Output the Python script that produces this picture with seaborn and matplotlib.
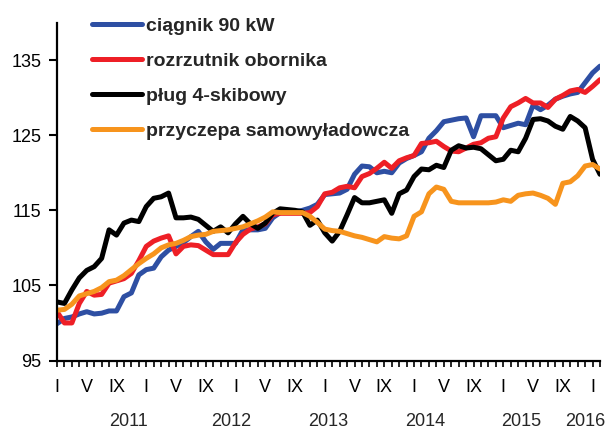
import matplotlib
matplotlib.use("Agg")
import matplotlib.pyplot as plt
import matplotlib.transforms as mtransforms
import numpy as np
import pandas as pd
import seaborn as sns

# Monthly price indices of farm machinery
series_names = ["ciągnik 90 kW", "rozrzutnik obornika", "pług 4-skibowy",
                "przyczepa samowyładowcza"]

ciagnik = [99.9, 100.6, 100.8, 101.2, 101.5, 101.2, 101.3, 101.6, 101.6, 103.5,
           104.0, 106.4, 107.1, 107.3, 108.8, 109.7, 110.2, 110.7, 111.5, 112.2,
           110.8, 109.8, 110.6, 110.6, 110.6, 112.4, 112.4, 112.4, 112.6, 114.0,
           114.7, 114.8, 114.8, 115.0, 115.3, 115.8, 117.1, 117.2, 117.3, 117.8,
           119.8, 120.9, 120.8, 120.0, 120.2, 120.0, 121.3, 121.9, 122.3, 122.8,
           124.6, 125.6, 126.8, 127.0, 127.2, 127.3, 124.8, 127.6, 127.6, 127.6,
           126.0, 126.3, 126.6, 126.4, 129.0, 128.4, 129.0, 129.8, 130.2, 130.5,
           130.7, 132.0, 133.3, 134.2]

rozrzutnik = [101.5, 100.0, 100.0, 102.6, 104.2, 103.7, 103.8, 105.3, 105.6, 105.9,
              106.6, 108.3, 110.2, 110.9, 111.3, 111.6, 109.2, 110.2, 110.4, 110.3,
              109.7, 109.1, 109.1, 109.1, 110.7, 111.8, 112.5, 112.8, 113.2, 114.4,
              114.6, 114.6, 114.6, 114.6, 114.7, 115.5, 117.2, 117.4, 118.0, 118.2,
              118.0, 119.5, 119.9, 120.6, 121.4, 120.6, 121.6, 122.0, 122.3, 123.9,
              124.0, 124.2, 123.5, 122.9, 122.8, 123.3, 123.8, 124.0, 124.6, 124.8,
              127.3, 128.8, 129.3, 129.9, 129.3, 129.3, 128.7, 129.8, 130.3, 130.9,
              131.1, 130.7, 131.5, 132.4]

plug = [102.8, 102.6, 104.4, 106.0, 107.0, 107.5, 108.6, 112.4, 111.7, 113.3,
        113.7, 113.5, 115.5, 116.6, 116.8, 117.3, 114.0, 114.0, 114.1, 113.8,
        113.0, 112.2, 112.8, 112.0, 113.2, 114.2, 113.2, 112.6, 113.3, 114.6,
        115.2, 115.1, 115.0, 114.8, 113.0, 113.7, 112.0, 110.9, 112.2, 114.4,
        116.7, 116.0, 116.0, 116.2, 116.4, 114.6, 117.2, 117.7, 119.5, 120.5,
        120.4, 121.0, 120.7, 123.0, 123.6, 123.3, 123.4, 123.2, 122.4, 121.6,
        121.8, 123.0, 122.8, 124.6, 127.1, 127.2, 126.9, 126.2, 125.8, 127.5,
        126.9, 126.0, 121.8, 119.8]

przyczepa = [101.7, 101.8, 102.5, 103.6, 103.9, 104.2, 104.7, 105.5, 105.7, 106.3,
             107.1, 107.9, 108.6, 109.2, 110.0, 110.4, 110.6, 111.0, 111.5, 111.7,
             111.8, 112.2, 112.3, 112.4, 112.6, 112.8, 113.2, 113.6, 114.1, 114.8,
             114.7, 114.7, 114.7, 114.7, 114.2, 113.4, 112.5, 112.3, 112.2, 111.9,
             111.6, 111.4, 111.1, 110.8, 111.5, 111.3, 111.2, 111.6, 114.2, 114.8,
             117.2, 118.1, 117.8, 116.2, 116.0, 116.0, 116.0, 116.0, 116.0, 116.1,
             116.4, 116.2, 117.0, 117.2, 117.3, 117.0, 116.6, 115.8, 118.6, 118.8,
             119.6, 120.9, 121.1, 120.5]

roman_months = ["I", "II", "III", "IV", "V", "VI", "VII", "VIII", "IX", "X", "XI", "XII"]
year_labels = ["2011", "2012", "2013", "2014", "2015", "2016"]
y_ticks = [95, 105, 115, 125, 135]

colors = ["#2E4FA3", "#EE1F26", "#000000", "#F7941D"]

# Long-form table for seaborn
n = len(ciagnik)
months = np.arange(n)
df = pd.concat([
    pd.DataFrame({"miesiac": months, "indeks": vals, "seria": name})
    for name, vals in zip(series_names, [ciagnik, rozrzutnik, plug, przyczepa])
], ignore_index=True)

sns.set_style("ticks")
plt.rcParams["font.family"] = ["Liberation Sans", "DejaVu Sans"]
plt.rcParams["axes.edgecolor"] = "black"
plt.rcParams["xtick.color"] = "black"
plt.rcParams["ytick.color"] = "black"

fig = plt.figure(figsize=(6.12, 4.30), dpi=100)
ax = fig.add_axes([57 / 612, 1 - 360.5 / 430, 543 / 612, (360.5 - 22.6) / 430])

sns.lineplot(data=df, x="miesiac", y="indeks", hue="seria", hue_order=series_names,
             palette=colors, linewidth=3.6, ax=ax, solid_joinstyle="round",
             solid_capstyle="round")

ax.set_xlim(0, n - 1)
ax.set_ylim(95, 140)
ax.set_xlabel("")
ax.set_ylabel("")
ax.set_yticks(y_ticks)
ax.set_yticklabels([str(v) for v in y_ticks])
ax.set_xticks(months)
ax.set_xticklabels([roman_months[m % 12] if m % 4 == 0 else "" for m in months])
ax.tick_params(axis="x", length=4, width=1.2, pad=9, labelsize=13)
ax.tick_params(axis="y", length=6, width=1.5, pad=5, labelsize=13)
sns.despine(ax=ax)
for side in ("left", "bottom"):
    ax.spines[side].set_linewidth(1.6)

# Year captions under the month labels
year_pos = [9.55, 23.4, 36.4, 49.5, 62.45, 71.0]
trans = mtransforms.blended_transform_factory(ax.transData, fig.transFigure)
for pos, yr in zip(year_pos, year_labels):
    ax.text(pos, 1 - 421.7 / 430, yr, transform=trans, ha="center", va="center",
            fontsize=13)

handles, labels = ax.get_legend_handles_labels()
if ax.legend_ is not None:
    ax.legend_.remove()
for h in handles:
    h.set_linewidth(3.6)
fig.legend(handles, labels, loc="upper left",
           bbox_to_anchor=(92 / 612, 1 - 17.0 / 430), frameon=False,
           prop={"weight": "bold", "size": 14}, handlelength=2.55,
           handletextpad=0.25, labelspacing=0.9, borderpad=0, borderaxespad=0)

fig.savefig("out.png", dpi=100)
